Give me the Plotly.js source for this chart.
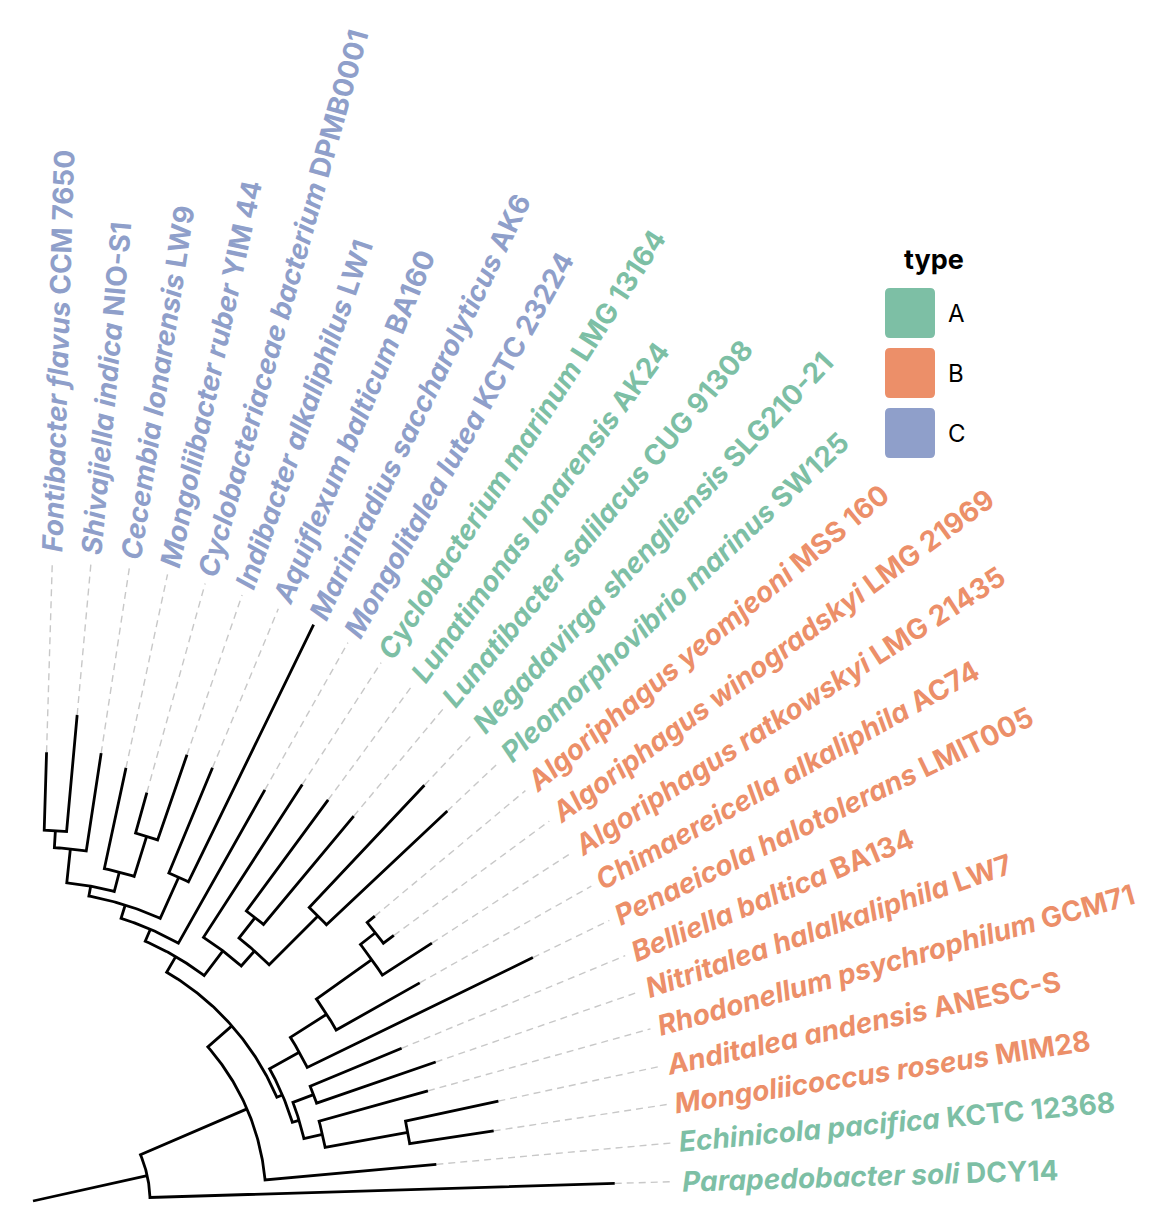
<!DOCTYPE html>
<html><head><meta charset="utf-8">
<script src="https://cdn.plot.ly/plotly-3.0.1.min.js"></script>
<style>html,body{margin:0;padding:0;background:#fff}</style>
</head><body><div id="chart" style="width:1162px;height:1226px"></div>
<script>
// ---- tips, in order around the fan (bottom -> top) ----
const tipTaxon = ["Parapedobacter soli","Echinicola pacifica","Mongoliicoccus roseus","Anditalea andensis","Rhodonellum psychrophilum","Nitritalea halalkaliphila","Belliella baltica","Penaeicola halotolerans","Chimaereicella alkaliphila","Algoriphagus ratkowskyi","Algoriphagus winogradskyi","Algoriphagus yeomjeoni","Pleomorphovibrio marinus","Negadavirga shengliensis","Lunatibacter salilacus","Lunatimonas lonarensis","Cyclobacterium marinum","Mongolitalea lutea","Mariniradius saccharolyticus","Aquiflexum balticum","Indibacter alkaliphilus","Cyclobacteriaceae bacterium","Mongoliibacter ruber","Cecembia lonarensis","Shivajiella indica","Fontibacter flavus"];
const tipStrain = ["DCY14","KCTC 12368","MIM28","ANESC-S","GCM71","LW7","BA134","LMIT005","AC74","LMG 21435","LMG 21969","MSS 160","SW125","SLG210-21","CUG 91308","AK24","LMG 13164","KCTC 23224","AK6","BA160","LW1","DPMB0001","YIM 44","LW9","NIO-S1","CCM 7650"];
const tipType = ["A","A","B","B","B","B","B","B","B","B","B","B","A","A","A","A","A","C","C","C","C","C","C","C","C","C"];
// distance of each tip from the root
const tipDepth = [0.582,0.405,0.466,0.476,0.410,0.426,0.399,0.556,0.444,0.475,0.448,0.445,0.569,0.571,0.501,0.498,0.496,0.472,0.641,0.469,0.472,0.424,0.443,0.453,0.488,0.449];
// ---- internal nodes: id, distance from root, children ----
const nodeIds   = ["A","B","C","U","H","G","F","I","T","S","R","Q","Z","AB","AC","W","X","Y","O","P","L","M","N","K","J"];
const nodeDepth = [0.117,0.233,0.265,0.271,0.278,0.297,0.381,0.300,0.305,0.348,0.416,0.435,0.283,0.314,0.334,0.403,0.360,0.296,0.310,0.355,0.320,0.340,0.382,0.354,0.371];
const nodeChildren = [["t1","B"],["t2","C"],["U","Z"],["H","T"],["G","I"],["F","t5"],["t3","t4"],["t6","t7"],["t8","S"],["R","t9"],["Q","t10"],["t11","t12"],["AB","Y"],["AC","t17"],["W","X"],["t13","t14"],["t15","t16"],["t18","O"],["P","L"],["t19","t20"],["M","K"],["N","t23"],["t21","t22"],["t24","J"],["t25","t26"]];
const rootChild = "A";
// legend
const typeNames = ["A","B","C"];
const typeColors = ["#7dbfa5","#ec8f69","#8f9fca"];

// ---- layout of the fan ----
const FAN = 90;              // degrees covered by the tips
const ALIGN = Math.max(...tipDepth);
const LABEL_R = ALIGN + 0.008;
const FONT = "Inter";
const FS = 28;
const N = tipTaxon.length;
const ang = {}, dep = {}, kids = {};
tipTaxon.forEach((_, i) => { ang["t"+(i+1)] = (i+0.5)*FAN/N; dep["t"+(i+1)] = tipDepth[i]; });
nodeIds.forEach((id, k) => { dep[id] = nodeDepth[k]; kids[id] = nodeChildren[k]; });
function angleOf(id){
  if (ang[id] !== undefined) return ang[id];
  const c = kids[id];
  ang[id] = (angleOf(c[0]) + angleOf(c[1]))/2;
  return ang[id];
}
nodeIds.forEach(angleOf);
const rad = d => d*Math.PI/180;
function pol(r, a){ return [r*Math.cos(rad(a)), r*Math.sin(rad(a))]; }

const lx = [], ly = [];
function push(p){ lx.push(p[0]); ly.push(p[1]); }
function brk(){ lx.push(null); ly.push(null); }
// root edge
push(pol(0, ang[rootChild])); push(pol(dep[rootChild], ang[rootChild])); brk();
nodeIds.forEach(id => {
  const [c1, c2] = kids[id];
  const r = dep[id];
  push(pol(dep[c1], ang[c1]));
  push(pol(r, ang[c1]));
  const a0 = ang[c1], a1 = ang[c2];
  const steps = Math.max(2, Math.ceil(Math.abs(a1-a0)/0.4));
  for (let s = 1; s < steps; s++) push(pol(r, a0 + (a1-a0)*s/steps));
  push(pol(r, ang[c2]));
  push(pol(dep[c2], ang[c2]));
  brk();
});

// dashed alignment lines
const dx = [], dy = [];
tipTaxon.forEach((_, i) => {
  const id = "t"+(i+1);
  if (ALIGN - tipDepth[i] > 0.002) {
    const p0 = pol(tipDepth[i], ang[id]), p1 = pol(ALIGN, ang[id]);
    dx.push(p0[0], p1[0], null); dy.push(p0[1], p1[1], null);
  }
});

const traces = [
  {x: dx, y: dy, mode: "lines", line: {color: "#c8c8c8", width: 1.4, dash: "7px,5px"}, hoverinfo: "skip", showlegend: false},
  {x: lx, y: ly, mode: "lines", line: {color: "#000", width: 2.8}, hoverinfo: "skip", showlegend: false}
];

// measure label widths
const cv = document.createElement("canvas").getContext("2d");
function tw(txt, italic){ cv.font = (italic ? "italic " : "") + "bold " + FS + "px '" + FONT + "'"; return cv.measureText(txt).width; }

const annotations = [];
tipTaxon.forEach((tx, i) => {
  const id = "t"+(i+1);
  const wpx = tw(tx, true) + tw(" " + tipStrain[i], false);
  const rc = LABEL_R + wpx/2000;
  const p = pol(rc, ang[id]);
  const col = typeColors[typeNames.indexOf(tipType[i])];
  annotations.push({x: p[0], y: p[1], xref: "x", yref: "y", showarrow: false,
    text: "<b><i>" + tx + "</i> " + tipStrain[i] + "</b>", textangle: -ang[id],
    xanchor: "center", yanchor: "middle", font: {family: FONT, size: FS, color: col}});
});

// pixel helpers for legend (1 data unit = 1000 px, centre at px (33,1201))
const CX = 33, CY = 1201, S = 1000;
const X = px => (px - CX)/S, Y = py => (CY - py)/S;
const shapes = [];
function rrect(x0, y0, x1, y1, r){
  return `M${X(x0+r)},${Y(y0)} L${X(x1-r)},${Y(y0)} Q${X(x1)},${Y(y0)} ${X(x1)},${Y(y0+r)} L${X(x1)},${Y(y1-r)} Q${X(x1)},${Y(y1)} ${X(x1-r)},${Y(y1)} L${X(x0+r)},${Y(y1)} Q${X(x0)},${Y(y1)} ${X(x0)},${Y(y1-r)} L${X(x0)},${Y(y0+r)} Q${X(x0)},${Y(y0)} ${X(x0+r)},${Y(y0)} Z`;
}
annotations.push({x: X(934), y: Y(259), xref: "x", yref: "y", showarrow: false, text: "<b>type</b>",
  xanchor: "center", yanchor: "middle", font: {family: FONT, size: 27, color: "#000"}});
typeNames.forEach((t, k) => {
  const top = 288 + 60*k;
  shapes.push({type: "path", xref: "x", yref: "y", path: rrect(885, top, 935, top+50, 5), fillcolor: typeColors[k], line: {width: 0}});
  annotations.push({x: X(946), y: Y(top+25), xref: "x", yref: "y", showarrow: false, text: t,
    xanchor: "left", yanchor: "middle", font: {family: FONT, size: 24, color: "#000"}});
});

const layout = {
  width: 1162, height: 1226, margin: {l: 0, r: 0, t: 0, b: 0},
  paper_bgcolor: "#fff", plot_bgcolor: "#fff", showlegend: false,
  xaxis: {range: [X(0), X(1162)], visible: false, fixedrange: true},
  yaxis: {range: [Y(1226), Y(0)], visible: false, fixedrange: true},
  annotations, shapes
};
Plotly.newPlot("chart", traces, layout, {staticPlot: true, displayModeBar: false});
</script>
</body></html>
